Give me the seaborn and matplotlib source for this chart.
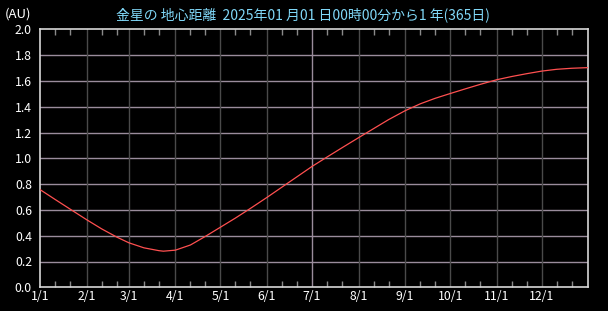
import matplotlib
matplotlib.use("Agg")
import matplotlib.pyplot as plt
import matplotlib.dates as mdates
import seaborn as sns
import pandas as pd
import numpy as np

# ---- data ----
dates = ["2025-01-01", "2025-01-11", "2025-01-21", "2025-02-01", "2025-02-11", "2025-02-21",
         "2025-03-01", "2025-03-11", "2025-03-21", "2025-03-24", "2025-04-01", "2025-04-11", "2025-04-21",
         "2025-05-01", "2025-05-11", "2025-05-21", "2025-06-01", "2025-06-11", "2025-06-21",
         "2025-07-01", "2025-07-11", "2025-07-21", "2025-08-01", "2025-08-11", "2025-08-21",
         "2025-09-01", "2025-09-11", "2025-09-21", "2025-10-01", "2025-10-11", "2025-10-21",
         "2025-11-01", "2025-11-11", "2025-11-21", "2025-12-01", "2025-12-11", "2025-12-21",
         "2026-01-01"]
distance_au = [0.756, 0.680, 0.605, 0.523, 0.452, 0.389,
               0.345, 0.306, 0.284, 0.280, 0.288, 0.328, 0.395,
               0.466, 0.537, 0.612, 0.697, 0.777, 0.857,
               0.937, 1.010, 1.082, 1.160, 1.230, 1.300,
               1.369, 1.422, 1.465, 1.502, 1.538, 1.573,
               1.609, 1.634, 1.656, 1.676, 1.690, 1.698,
               1.703]
month_labels = ["1/1", "2/1", "3/1", "4/1", "5/1", "6/1", "7/1", "8/1", "9/1", "10/1", "11/1", "12/1"]
y_ticks = [0.0, 0.2, 0.4, 0.6, 0.8, 1.0, 1.2, 1.4, 1.6, 1.8, 2.0]
title = "金星の 地心距離  2025年01 月01 日00時00分から1 年(365日)"
unit = "(AU)"

df = pd.DataFrame({"date": pd.to_datetime(dates), "dist": distance_au})

sns.set_style("dark")
plt.rcParams['font.family'] = ['Noto Sans CJK JP', 'DejaVu Sans']

fig = plt.figure(figsize=(6.08, 3.11), dpi=100, facecolor="black")
ax = fig.add_axes([40.3 / 608, 1 - 287.3 / 311, 548 / 608, 258 / 311])
ax.set_facecolor("black")

x0 = pd.Timestamp("2025-01-01")
x1 = pd.Timestamp("2026-01-01")
ax.set_xlim(x0, x1)
ax.set_ylim(0, 2.0)

# grid lines
grid_light = "#9a8c9c"
grid_dark = "#4a4a4a"
for v in y_ticks[1:-1]:
    ax.axhline(v, color=grid_light, lw=1.0, zorder=1)
month_starts = pd.date_range("2025-01-01", periods=12, freq="MS")
for i, m in enumerate(month_starts[1:], start=1):
    ax.axvline(m, color=grid_light if i == 6 else grid_dark, lw=1.0, zorder=1)

sns.lineplot(data=df, x="date", y="dist", ax=ax, color="#ff5050", lw=0.9, zorder=3)

ax.set_xlabel("")
ax.set_ylabel("")
ax.grid(False)

# ticks
ax.set_xticks(list(month_starts))
ax.set_xticklabels(month_labels)
ax.tick_params(axis="x", which="major", length=0, colors="white", labelsize=8.8, pad=2)
minor = [d for m in month_starts for d in (m + pd.Timedelta(days=10), m + pd.Timedelta(days=20))]
ax.set_xticks(minor, minor=True)
ax.tick_params(axis="x", which="minor", direction="in", length=4, width=1,
               color="#8a8a8a", top=True, bottom=True)
ax.set_yticks(y_ticks)
ax.set_yticklabels([f"{v:.1f}" for v in y_ticks])
ax.tick_params(axis="y", length=0, colors="white", labelsize=8.8, pad=6)

for s in ax.spines.values():
    s.set_color("#d8d8d8")
    s.set_linewidth(1.2)
    s.set_visible(True)

fig.text(303 / 608, 1 - 15 / 311, title, color="#80d8f8", fontsize=10,
         ha="center", va="center")
fig.text(5 / 608, 1 - 14 / 311, unit, color="white", fontsize=9.5,
         ha="left", va="center")

fig.savefig("out.png", dpi=100, facecolor="black")
